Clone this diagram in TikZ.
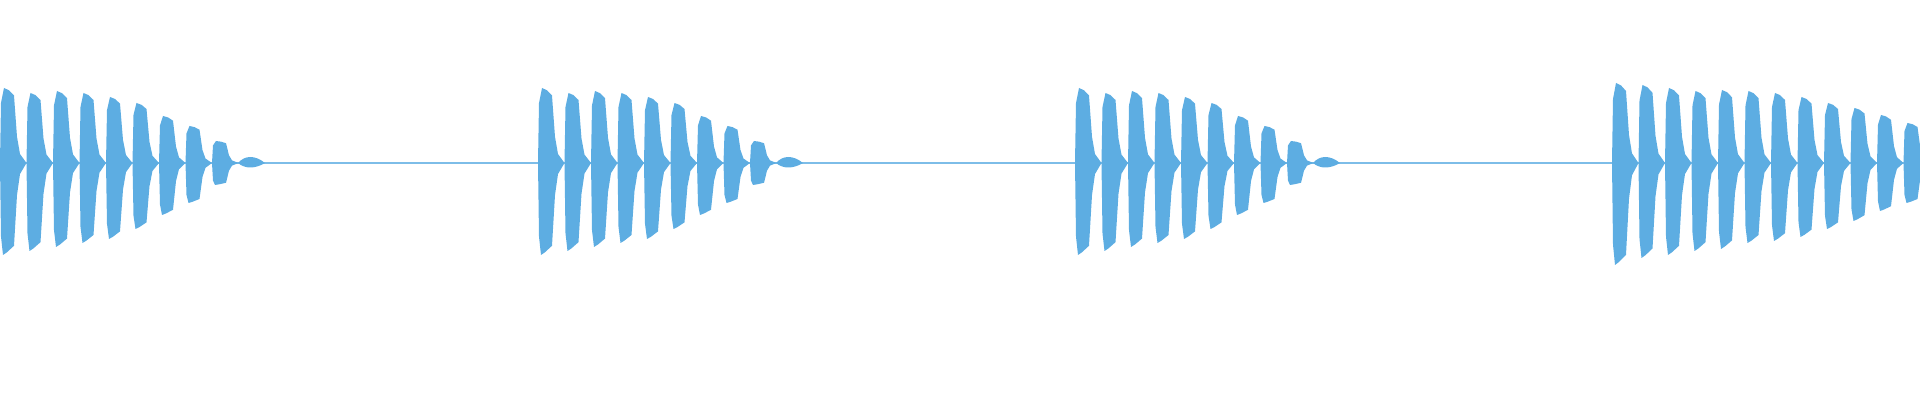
\documentclass[tikz,border=0pt]{standalone}
\usepackage{tikz}

\definecolor{wave}{RGB}{93,173,226}
\tikzset{pulse/.style={fill=wave, draw=wave, line width=0.4pt, line join=round}}
\newcommand{\wavepulse}[3]{% x, top, bottom
  \fill[wave] (#1,237) -- (#1+1,237+0.8*#2) -- (#1+4,237+#2) -- (#1+9,237+0.97*#2)
    -- (#1+14,237+0.9*#2) -- (#1+17,237+0.35*#2) -- (#1+20,237+0.12*#2) -- (#1+26.5,237)
    -- (#1+20,237-0.12*#3) -- (#1+17,237-0.35*#3) -- (#1+14,237-0.9*#3)
    -- (#1+7,237-0.97*#3) -- (#1+3,237-#3) -- (#1+1,237-0.8*#3) -- cycle;}

\begin{document}
\begin{tikzpicture}[x=0.01cm, y=0.01cm]
    \useasboundingbox (0,0) rectangle (1920,400);
    % centre line
    \draw[wave!80, line width=0.6pt] (0,237) -- (1920,237);
    % three decaying bursts
    \foreach \s in {0,538,1075} {
        \foreach \i/\a/\b in {0/75/92, 1/70/88, 2/72/84, 3/70/80, 4/66/76,
                              5/60/66, 6/47/52, 7/37/40, 8/22/22} {
            \wavepulse{\s+\i*26.5}{\a}{\b}
        }
        \fill[wave] (\s+238,237) .. controls (\s+245,245) and (\s+255,245) .. (\s+265,237)
            .. controls (\s+255,231) and (\s+245,231) .. (\s+238,237);
    }
    % last burst
    \foreach \i/\a/\b in {0/80/102, 1/78/95, 2/75/92, 3/72/88, 4/73/86, 5/72/80,
                          6/70/78, 7/66/74, 8/60/66, 9/55/58, 10/48/48, 11/40/40} {
        \wavepulse{1612+\i*26.5}{\a}{\b}
    }
\end{tikzpicture}
\end{document}
